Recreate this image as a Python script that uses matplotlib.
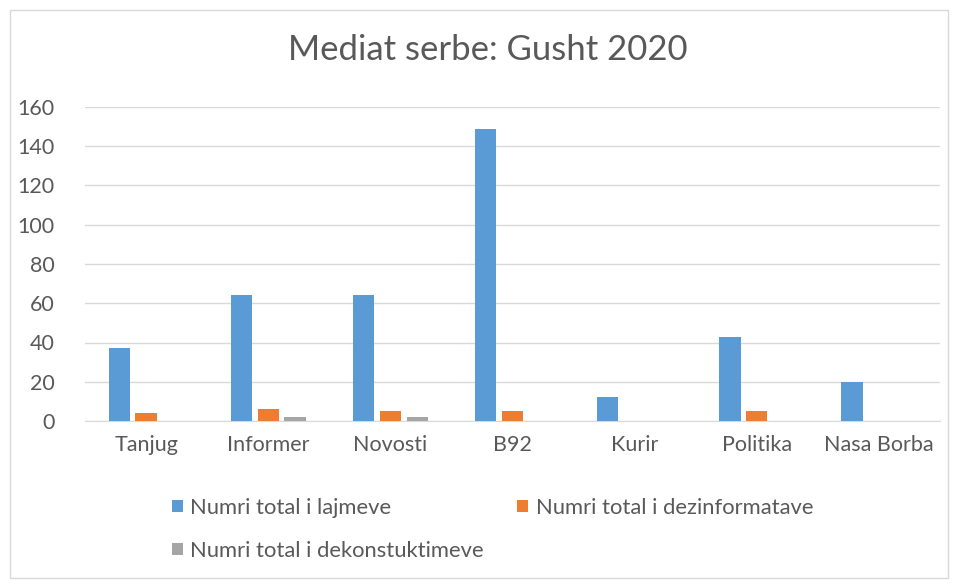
import matplotlib.pyplot as plt
import numpy as np
from matplotlib.patches import Rectangle

categories = ["Tanjug", "Informer", "Novosti", "B92", "Kurir", "Politika", "Nasa Borba"]
lajme = [37, 64, 64, 149, 12, 43, 20]
dezinformata = [4, 6, 5, 5, 0, 5, 0]
dekonstuktime = [0, 2, 2, 0, 0, 0, 0]
series_names = ["Numri total i lajmeve", "Numri total i dezinformatave",
                "Numri total i dekonstuktimeve"]
colors = ["#5b9bd5", "#ed7d31", "#a5a5a5"]

plt.rcParams["font.family"] = ["Lato", "DejaVu Sans"]

fig = plt.figure(figsize=(9.58, 5.8), dpi=100)
ax = fig.add_axes([85 / 958, 1 - 421 / 580, 855 / 958, 314 / 580])

x = np.arange(len(categories))
w = 0.175
offsets = [-0.22, 0.0, 0.22]
for vals, off, c, name in zip([lajme, dezinformata, dekonstuktime], offsets, colors, series_names):
    ax.bar(x + off, vals, width=w, color=c, label=name, zorder=3)

ax.set_xlim(-0.5, len(categories) - 0.5)
ax.set_ylim(0, 160)
ax.set_yticks(range(0, 161, 20))
ax.set_xticks(x)
ax.set_xticklabels(categories)
ax.grid(axis="y", color="#d9d9d9", linewidth=1, zorder=0)
for s in ["top", "right", "left"]:
    ax.spines[s].set_visible(False)
ax.spines["bottom"].set_color("#d9d9d9")
ax.tick_params(length=0, labelsize=15.5, colors="#595959", pad=10)
ax.tick_params(axis="y", pad=22)

fig.text(488 / 958, 1 - 50 / 580, "Mediat serbe: Gusht 2020", ha="center", va="center",
         fontsize=25, color="#595959")

handles, labels = ax.get_legend_handles_labels()
order = [0, 2, 1]
leg = fig.legend([handles[i] for i in order], [labels[i] for i in order], ncol=2,
                 loc="upper left", bbox_to_anchor=(152 / 958, 1 - 478 / 580), frameon=False,
                 fontsize=15.8, labelcolor="#595959", handlelength=0.5, handleheight=0.5,
                 handletextpad=0.35, columnspacing=1.5, labelspacing=1.05)

fig.patches.append(Rectangle((10 / 958, 2 / 580), 938 / 958, 568 / 580, transform=fig.transFigure,
                             fill=False, edgecolor="#d9d9d9", linewidth=1))

fig.savefig("out.png", dpi=100)
